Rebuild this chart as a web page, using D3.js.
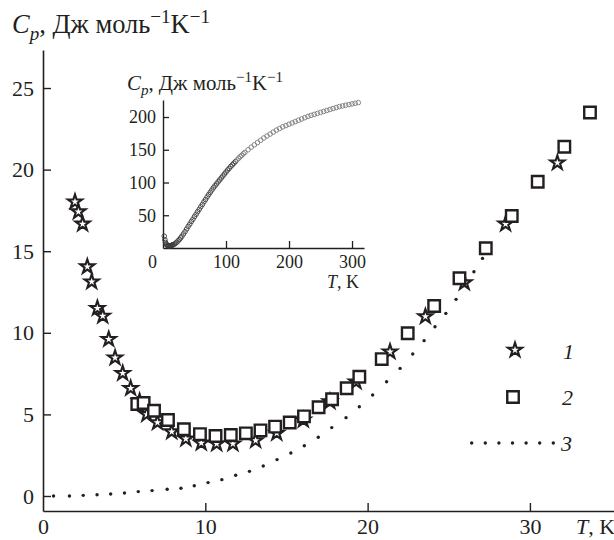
<!DOCTYPE html>
<html>
<head>
<meta charset="utf-8">
<script src="https://cdn.jsdelivr.net/npm/d3@7"></script>
<style>
  body { margin: 0; }
  #fig { display: block; background: #fff; }
  #fig text { font-family: "Liberation Serif", "Times New Roman", Tinos, FreeSerif, serif; }
</style>
</head>
<body>
<svg id="fig" width="614" height="540"></svg>
<script>
// Heat capacity, low-temperature region (main panel)
// Series 1 (stars)
const starT  = [1.97, 2.18, 2.44, 2.73, 3.0, 3.35, 3.68, 4.05, 4.44, 4.91, 5.4, 5.95, 6.39, 7.05, 7.93, 8.8, 9.75, 10.7, 11.7, 13.1, 14.4, 16.04, 17.68, 19.29, 21.38, 23.56, 25.96, 28.5, 31.69];
const starCp = [18.03, 17.42, 16.67, 14.05, 13.13, 11.5, 11.03, 9.6, 8.47, 7.52, 6.6, 5.8, 5.0, 4.5, 3.94, 3.5, 3.25, 3.2, 3.2, 3.4, 3.85, 4.66, 5.78, 7.0, 8.84, 11.0, 13.07, 16.67, 20.42];

// Series 2 (squares)
const sqT  = [5.81, 6.2, 6.84, 7.7, 8.68, 9.67, 10.63, 11.57, 12.5, 13.4, 14.3, 15.2, 16.08, 16.98, 17.81, 18.71, 19.49, 20.87, 22.47, 24.1, 25.66, 27.28, 28.88, 30.48, 32.12, 33.7];
const sqCp = [5.64, 5.7, 5.22, 4.66, 4.09, 3.79, 3.68, 3.74, 3.84, 4.02, 4.25, 4.5, 4.88, 5.44, 5.93, 6.6, 7.31, 8.39, 9.97, 11.64, 13.34, 15.18, 17.16, 19.26, 21.4, 23.5];

// Curve 3 (dotted)
const dotT  = [0.65, 1.63, 2.48, 3.33, 4.17, 5.02, 5.87, 6.72, 7.65, 8.5, 9.32, 10.17, 11.02, 11.87, 12.72, 13.57, 14.42, 15.27, 16.1, 16.96, 17.79, 18.67, 19.49, 20.31, 21.17, 22.0, 22.78, 23.48, 24.15, 24.82, 25.45, 26.0, 26.55, 27.08];
const dotCp = [0.0, 0.0, 0.04, 0.08, 0.12, 0.18, 0.27, 0.33, 0.41, 0.47, 0.63, 0.82, 1.0, 1.27, 1.51, 1.84, 2.23, 2.63, 3.08, 3.6, 4.19, 4.8, 5.47, 6.19, 7.0, 7.82, 8.7, 9.52, 10.37, 11.19, 12.05, 12.9, 13.74, 14.56];

// Full temperature range (inset)
const insetT  = [2, 3, 4, 5, 6, 7, 8, 9, 10, 11, 12, 13, 14, 15, 16, 18, 20, 22, 24, 26, 28, 30,
  32.5, 35, 37.5, 40, 42.5, 45, 47.5, 50, 52.5, 55, 57.5, 60, 62.5, 65, 67.5, 70, 72.5, 75, 77.5, 80,
  82.5, 85, 87.5, 90, 92.5, 95, 97.5, 100, 102.5, 105, 107.5, 110, 112.5, 115, 117.5, 120, 122.5, 125, 127.5, 130,
  135, 140, 145, 150, 155, 160, 165, 170, 175, 180, 185, 190, 195, 200, 205, 210, 215, 220, 225, 230,
  235, 240, 245, 250, 255, 260, 265, 270, 275, 280, 285, 290, 295, 300, 305, 310];
const insetCp = [18, 12.5, 8.5, 6, 4.8, 4.1, 3.6, 3.3, 3.3, 3.3, 3.4, 3.6, 4.2, 4.5, 4.9, 5.9, 7.3, 8.8, 11, 13, 15.3, 18,
  21.5, 25, 29, 33, 36.5, 40.5, 44, 48, 51.5, 55.5, 59, 63, 66.5, 70.5, 74, 78, 81.5, 85, 88.5, 92,
  95, 98, 101, 104, 107, 110, 113, 116, 119, 121.5, 124.5, 127, 129.5, 132, 134.5, 137, 139.5, 141.5, 144, 146,
  150, 154, 157.5, 161, 164.5, 168, 171, 174, 177, 180, 182.5, 185, 187, 189, 191, 193, 195, 197, 199, 201,
  202.5, 204, 205.5, 207, 208.5, 210, 211.5, 213, 214.5, 216, 217, 218, 219, 220, 221, 222];

// Tick values
const mainXTicks = [0, 10, 20, 30];
const mainYTicks = [0, 5, 10, 15, 20, 25];
const insetXTicks = [0, 100, 200, 300];
const insetYTicks = [50, 100, 150, 200];

const ink = "#231f20";
const svg = d3.select("#fig");

// ---------- main panel ----------
const x = d3.scaleLinear().domain([0, 35.18]).range([43, 614]);
const y = d3.scaleLinear().domain([-0.92, 27.33]).range([511, 50]);

const gx = svg.append("g").attr("transform", `translate(0,${y.range()[0]})`)
  .call(d3.axisBottom(x).tickValues(mainXTicks).tickSize(-8).tickSizeOuter(0).tickPadding(7));
const gy = svg.append("g").attr("transform", `translate(${x.range()[0]},0)`)
  .call(d3.axisLeft(y).tickValues(mainYTicks).tickSize(-8).tickSizeOuter(0).tickPadding(9));
[gx, gy].forEach(g => {
  g.attr("font-family", null).attr("font-size", null);
  g.selectAll("path.domain").attr("stroke", ink).attr("stroke-width", 1.6);
  g.selectAll(".tick line").attr("stroke", ink).attr("stroke-width", 1.4);
  g.selectAll(".tick text").attr("fill", ink).style("font-size", "22px");
});
gx.selectAll(".tick").filter(d => d === 0).select("line").remove();

// Axis titles
const tAx = svg.append("text").attr("x", 576).attr("y", 534).style("font-size", "22px");
tAx.append("tspan").style("font-style", "italic").text("T");
tAx.append("tspan").text(", K");

// "Cp, Дж моль−1K−1" label, sized so that it spans the given width
function cpTitle(sel, size, width) {
  const build = s => {
    sel.selectAll("tspan").remove();
    sel.style("font-size", s + "px");
    sel.append("tspan").style("font-style", "italic").text("C");
    sel.append("tspan").style("font-style", "italic").style("font-size", (s * 0.72) + "px")
      .attr("dy", s * 0.25).text("p");
    sel.append("tspan").attr("dy", -s * 0.25).text(", Дж моль");
    sel.append("tspan").style("font-size", (s * 0.72) + "px").attr("dy", -s * 0.38).text("−1");
    sel.append("tspan").attr("dy", s * 0.38).text("K");
    sel.append("tspan").style("font-size", (s * 0.72) + "px").attr("dy", -s * 0.38).text("−1");
  };
  build(size);
  const w = sel.node().getBBox().width;
  if (w > 0) build(Math.min(size * 1.25, size * width / w));
}
cpTitle(svg.append("text").attr("x", 12).attr("y", 33).attr("fill", ink), 22, 198);

// Dotted curve 3
svg.append("g").selectAll("circle").data(dotT).join("circle")
  .attr("cx", (d, i) => x(d)).attr("cy", (d, i) => y(dotCp[i]))
  .attr("r", 1.7).attr("fill", ink);

// Stars (1)
const star = d3.symbol().type(d3.symbolStar).size(62);
svg.append("g").selectAll("path").data(starT).join("path")
  .attr("d", star)
  .attr("transform", (d, i) => `translate(${x(d)},${y(starCp[i])})`)
  .attr("fill", "#fff").attr("stroke", ink).attr("stroke-width", 2.1);

// Squares (2)
const square = d3.symbol().type(d3.symbolSquare).size(132);
svg.append("g").selectAll("path").data(sqT).join("path")
  .attr("d", square)
  .attr("transform", (d, i) => `translate(${x(d)},${y(sqCp[i])})`)
  .attr("fill", "#fff").attr("stroke", ink).attr("stroke-width", 2.4);

// Legend
const leg = svg.append("g");
leg.append("path").attr("d", star).attr("transform", "translate(515,350)")
  .attr("fill", "#fff").attr("stroke", ink).attr("stroke-width", 2.1);
leg.append("path").attr("d", square).attr("transform", "translate(513,397)")
  .attr("fill", "#fff").attr("stroke", ink).attr("stroke-width", 2.4);
leg.selectAll("circle").data(d3.range(7)).join("circle")
  .attr("cx", i => 471.7 + i * 13.6).attr("cy", 443).attr("r", 1.7).attr("fill", ink);
[["1", 563, 359], ["2", 562, 405], ["3", 561, 451]].forEach(([t, lx, ly]) => {
  leg.append("text").attr("x", lx).attr("y", ly).style("font-size", "22px")
    .style("font-style", "italic").text(t);
});

// ---------- inset ----------
const xi = d3.scaleLinear().domain([0, 319]).range([163, 364]);
const yi = d3.scaleLinear().domain([0, 226]).range([248, 100]);

const gxi = svg.append("g").attr("transform", `translate(0,${yi.range()[0]})`)
  .call(d3.axisBottom(xi).tickValues(insetXTicks).tickSize(-7).tickSizeOuter(0).tickPadding(7));
const gyi = svg.append("g").attr("transform", `translate(${xi.range()[0]},0)`)
  .call(d3.axisLeft(yi).tickValues(insetYTicks).tickSize(-6).tickSizeOuter(0).tickPadding(7));
[gxi, gyi].forEach(g => {
  g.attr("font-family", null).attr("font-size", null);
  g.selectAll("path.domain").attr("stroke", ink).attr("stroke-width", 1.4);
  g.selectAll(".tick line").attr("stroke", ink).attr("stroke-width", 1.3);
  g.selectAll(".tick text").attr("fill", ink).style("font-size", "18px");
});
gxi.selectAll(".tick").filter(d => d === 0).call(t => {
  t.select("line").remove();
  t.select("text").attr("dx", -11);
});

// dense low-temperature part prints darker
svg.append("g").selectAll("circle").data(insetT).join("circle")
  .attr("cx", d => xi(d)).attr("cy", (d, i) => yi(insetCp[i]))
  .attr("r", 2.3).attr("fill", "none")
  .attr("stroke", d => d <= 115 ? "#3a3a3a" : "#7a7a7a").attr("stroke-width", 0.9);

cpTitle(svg.append("text").attr("x", 127).attr("y", 90).attr("fill", ink), 17.4, 156);
const tIn = svg.append("text").attr("x", 327).attr("y", 288).style("font-size", "18px");
tIn.append("tspan").style("font-style", "italic").text("T");
tIn.append("tspan").text(", K");

svg.selectAll("text").attr("fill", ink);
</script>
</body>
</html>
